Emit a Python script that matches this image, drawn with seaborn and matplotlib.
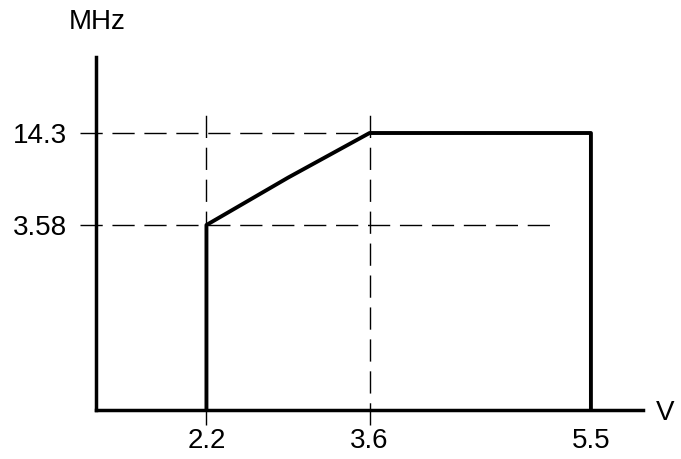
import matplotlib
matplotlib.use("Agg")
import matplotlib.pyplot as plt
import seaborn as sns
import pandas as pd

# operating envelope: supply voltage (V) vs max clock (MHz)
voltage = [2.2, 2.2, 2.9, 3.6, 5.5, 5.5]
freq_mhz = [0.221, 3.58, 7.3, 14.3, 14.3, 0.221]
x_ticks = [2.2, 3.6, 5.5]
x_tick_labels = ["2.2", "3.6", "5.5"]
y_ticks = [3.58, 14.3]
y_tick_labels = ["3.58", "14.3"]

df = pd.DataFrame({"V": voltage, "MHz": freq_mhz})

sns.set_style("white")
plt.rcParams["font.family"] = ["Liberation Sans", "DejaVu Sans"]
plt.rcParams["text.color"] = "black"
plt.rcParams["xtick.color"] = "black"
plt.rcParams["ytick.color"] = "black"

fig = plt.figure(figsize=(6.81, 4.59), dpi=100)
W, H = 681, 459
ax = fig.add_axes([96 / W, 49 / H, 547 / W, 353 / H])

ax.set_yscale("log")
ax.set_xlim(1.252, 5.947)
ax.set_ylim(0.221, 44.9)

dash = (0, (16, 7))
for xv in x_ticks[:2]:
    ax.axvline(xv, ymin=-15 / 353, ymax=304 / 353, color="black", lw=1.0,
               ls=dash, clip_on=False, zorder=1)
ax.axhline(14.3, xmin=-16 / 547, xmax=493 / 547, color="black", lw=1.0,
           ls=dash, clip_on=False, zorder=1)
ax.axhline(3.58, xmin=-16 / 547, xmax=459 / 547, color="black", lw=1.0,
           ls=dash, clip_on=False, zorder=1)

sns.lineplot(data=df, x="V", y="MHz", sort=False, estimator=None,
             errorbar=None, ax=ax, color="black", lw=2.8, zorder=3)

for side in ["top", "right"]:
    ax.spines[side].set_visible(False)
for side in ["left", "bottom"]:
    ax.spines[side].set_linewidth(2.5)
    ax.spines[side].set_color("black")
    ax.spines[side].set_capstyle("projecting")

ax.set_xticks(x_ticks)
ax.set_xticklabels(x_tick_labels)
ax.set_yticks(y_ticks)
ax.set_yticklabels(y_tick_labels)
ax.minorticks_off()
ax.tick_params(axis="x", length=0, pad=13, labelsize=20, colors="black")
ax.tick_params(axis="y", length=0, pad=21, labelsize=20, colors="black")
ax.set_xlabel("")
ax.set_ylabel("")

fig.text(97 / W, 1 - 22 / H, "MHz", fontsize=20, ha="center", va="center")
fig.text(665 / W, 1 - 413 / H, "V", fontsize=20, ha="center", va="center")

fig.savefig("out.png", dpi=100, facecolor="white")
